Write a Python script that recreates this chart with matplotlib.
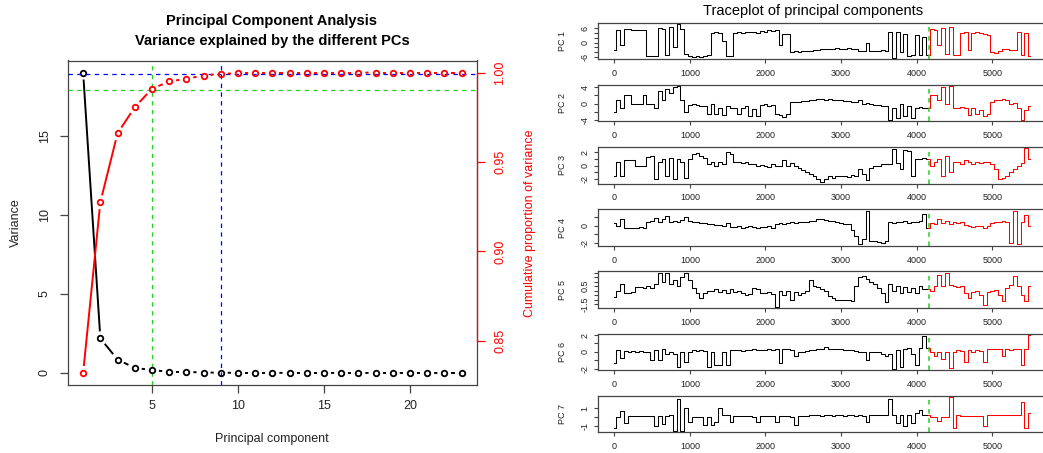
import numpy as np
import matplotlib
matplotlib.use("Agg")
import matplotlib.pyplot as plt

plt.rcParams['font.family'] = ['Liberation Sans', 'DejaVu Sans']

# ---- scree plot data ----
pc_number = list(range(1, 24))
pc_variance = [19.0, 2.19, 0.85, 0.32, 0.19, 0.07, 0.07, 0.03, 0.02, 0.01,
               0.01, 0.01, 0.005, 0.005, 0.005, 0.004, 0.004, 0.003, 0.003,
               0.002, 0.002, 0.001, 0.001]
cum_proportion = [0.832, 0.9275, 0.966, 0.9806, 0.9909, 0.995, 0.9965, 0.9983,
                  0.9993, 0.9996, 0.9999, 0.9999, 0.9999, 0.9999, 0.9999,
                  0.9999, 0.9999, 1.0, 1.0, 1.0, 1.0, 1.0, 1.0]
thresh_green = 0.99
thresh_blue = 0.999
pc_green = 5
pc_blue = 9

# ---- trace data: iteration every 50 steps, 0..5500 ----
iteration = list(range(0, 5550, 50))
split_iter = 4170

pc1 = [-3.0, 5.4, -1.0, 5.8, 5.8, 5.0, 5.0, 5.0, 5.0, -5.5,
       -5.5, -5.3, 6.0, 5.5, -5.0, 6.5, -2.0, 7.6, 5.5, -4.8,
       -5.5, -6.0, -5.5, -5.8, -5.5, -5.2, 4.0, 4.2, 4.0, 0.5,
       -5.5, -5.5, 4.0, 4.3, 4.0, 4.3, 4.5, 4.3, 4.0, 4.8,
       4.5, 5.0, 4.8, 5.0, -1.0, 3.5, 3.5, -4.0, -3.5, -3.8,
       -3.5, -3.4, -3.3, -3.0, -3.0, -2.8, -2.6, -2.5, -2.5, -2.4,
       -2.5, -2.5, -2.4, -2.6, -2.5, -3.5, -3.6, 0.0, -3.4, -3.6,
       -3.3, -3.2, -3.5, 4.3, -6.3, 4.5, -4.0, 3.5, -5.5, -5.0,
       3.0, -5.0, 2.5, -5.2, 5.5, 5.0, -1.0, 6.0, -4.5, 6.5,
       -5.0, -5.0, 4.0, 4.2, -3.0, 4.0, 4.5, 3.8, 3.5, 3.0,
       -4.0, -4.3, -3.5, -2.5, -2.5, -3.0, -3.2, 4.2, -5.0, 4.0,
       -5.5]
pc2 = [-2.0, 1.0, -1.0, 2.0, 2.0, 0.0, 0.0, 0.0, 2.0, 0.0,
       -0.2, -1.0, 3.0, 1.0, 3.5, 2.5, 4.0, 4.2, 1.0, -2.0,
       -0.3, 0.0, -0.3, -0.5, -0.5, -2.5, 0.0, -2.5, -1.0, -2.8,
       -0.5, -1.0, -1.0, -2.5, -1.0, -0.5, -3.0, -1.2, -3.0, -0.3,
       0.0, -0.5, -0.3, -2.5, -2.8, -3.2, -2.5, 0.5, 0.3, 0.5,
       0.6, 0.7, 0.8, 1.0, 1.2, 1.2, 1.0, 1.1, 1.0, 0.9,
       0.8, 0.7, 0.6, 0.5, 0.5, 1.0, 0.0, 0.2, -0.2, -0.3,
       -0.3, -0.5, -0.5, -4.0, -1.0, -3.5, 0.0, -3.0, -0.5, -3.5,
       -1.0, -0.8, -1.0, -1.0, 2.0, 2.0, 1.0, 4.0, 0.0, 4.2,
       -1.0, -1.0, -0.8, -1.0, -2.8, -1.0, -2.5, -1.5, -3.0, -2.5,
       0.5, 0.8, 1.0, 1.2, 0.8, 0.0, 0.2, -1.0, -4.0, -1.5,
       -0.5]
pc3 = [-1.5, 0.5, -1.5, 0.8, 0.8, 0.8, 0.0, 0.0, 0.0, 1.3,
       1.5, -2.0, 0.5, 1.0, -1.5, 1.2, -2.0, 1.0, 0.5, -1.8,
       1.0, 1.8, 1.9, 1.5, 1.2, 0.3, 0.5, 0.0, 0.5, 0.2,
       2.0, 1.8, 0.5, 0.5, 0.4, 0.6, 0.3, 0.2, 0.0, 0.1,
       0.0, -0.2, 0.3, 0.0, -0.1, 0.8, 0.0, 0.4, 0.0, -0.3,
       -0.6, -1.0, -1.3, -1.6, -2.0, -2.5, -2.0, -1.6, -1.8, -1.6,
       -1.6, -1.5, -1.7, -1.4, -1.5, -0.5, -1.2, -2.2, -0.3, 0.0,
       0.0, 0.2, 0.3, 0.2, 2.5, 0.4, -0.5, 2.4, 2.2, -1.5,
       1.0, 1.0, 1.1, 1.0, 0.0, 0.5, 1.0, -1.5, 1.5, -1.0,
       0.5, 0.6, 0.3, 0.8, 0.5, 0.2, 0.6, 0.4, 0.5, 0.5,
       0.2, -0.5, -2.0, -1.8, -1.5, -1.0, -0.5, 0.0, 0.4, 2.6,
       1.0]
pc4 = [0.3, 0.0, 0.8, -0.2, -0.2, -0.2, -0.2, -0.1, -0.2, 0.5,
       0.6, 0.9, 0.4, 0.8, 1.2, 0.5, 0.6, 0.4, 0.7, 1.0,
       0.6, 0.5, 0.4, 0.3, 0.3, 0.2, 0.2, 0.1, 0.1, 0.0,
       0.3, -0.1, -0.1, 0.0, -0.2, -0.1, 0.0, -0.1, -0.2, -0.1,
       -0.1, 0.0, -0.2, 0.2, 0.3, 0.2, 0.3, 0.4, 0.3, 0.4,
       0.5, 0.4, 0.6, 0.6, 0.8, 0.8, 0.7, 0.6, 0.6, 0.4,
       0.3, 0.2, 0.2, -0.5, -1.2, -2.2, -1.5, 1.8, -1.8, -1.8,
       -1.9, -2.0, -1.8, 0.5, 0.3, 0.5, 0.4, 0.6, 0.3, 0.5,
       0.4, 0.6, 1.4, -0.3, 0.3, 0.2, 0.8, 0.3, 0.6, 0.2,
       0.5, 0.3, 0.4, 0.1, 0.0, -0.1, 0.0, 0.0, -0.2, 0.0,
       0.3, 0.4, 0.5, 0.6, 0.5, -2.0, 1.8, -2.1, 0.5, 1.3,
       0.0]
pc5 = [-0.7, 0.0, 0.8, -0.3, -0.3, -0.2, 0.4, 0.4, 0.3, 0.5,
       0.3, 0.8, 2.0, 1.0, 2.0, 0.8, 1.2, 0.5, 1.5, 2.0,
       1.2, 0.3, -0.3, -0.8, -0.3, 0.0, 0.0, 0.2, -0.1, 0.1,
       -0.3, 0.2, -0.2, 0.0, -0.3, -0.5, -0.4, 0.3, 0.2, -0.3,
       -0.3, -0.2, -0.4, -1.8, 0.0, -0.5, 0.0, -1.0, -0.2, -0.5,
       -0.3, 0.0, 1.2, 0.5, 0.4, 0.2, 0.0, -0.6, -0.8, -1.0,
       -1.0, -1.0, -1.1, -1.2, 0.5, 1.5, 1.6, 1.3, 1.0, 0.7,
       0.3, -0.3, -1.3, 0.8, 0.0, 0.5, -0.3, 0.4, -0.2, 0.3,
       -0.3, 0.5, 0.2, 0.2, 0.0, 0.5, 1.8, 0.5, 2.0, 0.6,
       0.5, 0.4, 0.5, -0.3, -0.8, -0.2, 0.0, -0.5, -1.6, -0.1,
       0.0, 0.1, -0.5, -1.2, 0.3, 0.6, 1.6, 0.5, -0.5, -1.2,
       0.5]
pc6 = [-1.3, 0.2, -0.7, 0.1, 0.0, 0.1, 0.0, 0.1, 0.0, 0.0,
       -0.9, 0.2, -1.0, 0.3, -0.2, 0.0, -0.3, -1.8, 0.0, -1.2,
       0.0, 0.2, 0.1, 0.2, 0.1, -1.8, 0.0, -1.5, -1.5, 0.0,
       -1.6, 0.2, 0.2, 0.2, 0.1, 0.2, 0.2, 0.3, 0.2, 0.2,
       0.2, 0.3, 0.2, 0.3, -1.3, 0.3, 0.3, 0.2, -0.5, 0.0,
       0.0, 0.1, 0.2, 0.2, 0.4, 0.4, 0.6, 0.4, 0.4, 0.3,
       0.3, 0.2, 0.2, 0.2, 0.1, 0.0, 0.0, -1.0, 0.0, 0.0,
       0.0, -0.3, -0.5, -0.3, -2.0, 0.2, -1.8, 0.3, 0.5, -0.2,
       -1.6, 0.5, 1.9, 0.5, 0.0, -0.5, 0.0, -0.8, 0.0, -1.9,
       0.0, 0.2, 0.1, -1.2, 0.2, 0.0, 0.2, 0.1, -1.2, 0.3,
       0.3, 0.4, 0.3, -0.5, 0.3, 0.2, 0.3, 0.4, -1.5, 0.3,
       2.0]
pc7 = [-1.2, 0.0, 0.7, -0.6, 0.1, 0.1, 0.1, 0.1, 0.1, 0.1,
       0.1, -1.0, 0.1, -0.7, 0.1, 0.3, -1.5, 2.0, -1.5, 1.0,
       -0.5, 0.0, 0.0, 0.0, -0.8, 0.0, -0.8, -0.5, 1.0, 0.2,
       0.2, -0.5, 0.1, 0.1, 0.1, 0.1, 0.1, 0.0, -0.5, 0.1,
       0.1, 0.1, 0.1, -0.5, 0.1, 0.1, 0.1, 0.0, -0.8, 0.1,
       0.1, 0.1, 0.2, 0.2, 0.2, 0.1, 0.2, 0.2, 0.1, 0.2,
       0.2, 0.1, 0.2, 0.2, 0.1, 0.2, 0.1, -0.5, 0.2, 0.2,
       0.2, 0.2, 0.2, 2.0, 0.2, -0.6, 0.2, -1.0, 0.2, -0.6,
       0.5, 0.8, 0.3, 0.3, 0.0, 0.0, -0.4, 0.0, 0.0, 2.2,
       -1.2, 0.3, 0.1, 0.1, 0.1, 0.1, 0.1, 0.1, -1.0, 0.2,
       0.2, 0.2, 0.2, 0.2, 0.2, 0.2, 0.2, 0.2, 1.7, -1.2,
       0.5]

traces = [pc1, pc2, pc3, pc4, pc5, pc6, pc7]
trace_names = ["PC 1", "PC 2", "PC 3", "PC 4", "PC 5", "PC 6", "PC 7"]
# y ticks per panel, and the ones that carry a label
trace_yticks = [
    ([-6, -4, -2, 0, 2, 4, 6], [-6, 0, 6]),
    ([-4, -2, 0, 2, 4], [-4, 0, 4]),
    ([-2, -1, 0, 1, 2], [-2, 0, 2]),
    ([-2, -1, 0, 1], [-2, 0]),
    ([-1.5, -1.0, -0.5, 0.0, 0.5, 1.0, 1.5, 2.0], [-1.5, 0.5]),
    ([-2, -1, 0, 1, 2], [-2, 0, 2]),
    ([-1, 0, 1], [-1, 1]),
]

W, H = 1043, 453
GREEN = '#22d022'
BLUE = '#0000ff'
RED = '#ff0000'
AXC = '#444444'


def px_axes(fig, left, top, right, bottom):
    return fig.add_axes([left / W, 1 - bottom / H, (right - left) / W, (bottom - top) / H])


def r_limits(vals):
    lo, hi = min(vals), max(vals)
    pad = 0.04 * (hi - lo)
    return lo - pad, hi + pad


def gapped_line(ax, x, y, color, gap=7.0, lw=1.4):
    # line segments that stop short of each point marker
    pts = ax.transData.transform(np.column_stack([x, y]))
    inv = ax.transData.inverted()
    for p0, p1 in zip(pts[:-1], pts[1:]):
        d = p1 - p0
        L = np.hypot(d[0], d[1])
        if L <= 2 * gap:
            continue
        u = d / L
        a = inv.transform(p0 + u * gap)
        b = inv.transform(p1 - u * gap)
        ax.plot([a[0], b[0]], [a[1], b[1]], color=color, lw=lw,
                solid_capstyle='butt', zorder=3)


fig = plt.figure(figsize=(W / 100, H / 100), dpi=100)

# ---------------- left: scree plot ----------------
ax = px_axes(fig, 68, 60.5, 476.7, 385)
ax.set_xlim(r_limits(pc_number))
ax.set_ylim(r_limits(pc_variance))
ax2 = ax.twinx()
ax2.set_position(ax.get_position())
ax2.set_ylim(r_limits(cum_proportion))

for s in ax.spines.values():
    s.set_color(AXC)
    s.set_linewidth(0.9)
for name, s in ax2.spines.items():
    s.set_visible(name == 'right')
ax2.spines['right'].set_color(RED)
ax2.spines['right'].set_linewidth(0.9)
ax2.spines['right'].set_bounds(0.85, 1.0)

ax.set_xticks([5, 10, 15, 20])
ax.set_yticks([0, 5, 10, 15])
ax.tick_params(axis='both', direction='out', length=5.5, width=0.9, color=AXC,
               labelsize=9, labelcolor='#222222')
ax.tick_params(axis='x', pad=5)
ax.tick_params(axis='y', pad=7)
for lab in ax.get_yticklabels():
    lab.set_rotation(90)
    lab.set_va('center')
ax2.set_yticks([0.85, 0.90, 0.95, 1.00])
ax2.set_yticklabels(['0.85', '0.90', '0.95', '1.00'], rotation=90, va='center')
ax2.tick_params(axis='y', direction='out', length=5.5, width=0.9, color=RED,
                labelsize=9, labelcolor=RED, pad=7)

ax.axvline(pc_green, color=GREEN, lw=0.9, ls=(0, (3.5, 3.5)), zorder=1)
ax.axvline(pc_blue, color=BLUE, lw=0.9, ls=(0, (3.5, 3.5)), zorder=1)
ax2.axhline(thresh_green, color=GREEN, lw=0.9, ls=(0, (3.5, 3.5)), zorder=1)
ax2.axhline(thresh_blue, color=BLUE, lw=0.9, ls=(0, (3.5, 3.5)), zorder=1)

gapped_line(ax, pc_number, pc_variance, 'black')
ax.plot(pc_number, pc_variance, 'o', mfc='none', mec='black', ms=4.0, mew=1.3, zorder=4)
gapped_line(ax2, pc_number, cum_proportion, RED)
ax2.plot(pc_number, cum_proportion, 'o', mfc='none', mec=RED, ms=4.0, mew=1.3, zorder=4)

fig.text(272 / W, 1 - 21.5 / H, "Principal Component Analysis", ha='center', va='center',
         fontsize=10.5, fontweight='bold')
fig.text(272 / W, 1 - 40.5 / H, "Variance explained by the different PCs", ha='center',
         va='center', fontsize=10.5, fontweight='bold')
fig.text(16 / W, 1 - 223 / H, "Variance", rotation=90, ha='center', va='center',
         fontsize=9, color='#222222')
fig.text(272 / W, 1 - 439 / H, "Principal component", ha='center', va='center',
         fontsize=9, color='#222222')
fig.text(530 / W, 1 - 223 / H, "Cumulative proportion of variance", rotation=90,
         ha='center', va='center', fontsize=9, color=RED)

# ---------------- right: trace plots ----------------
it = np.array(iteration)
k = int(np.searchsorted(it, split_iter))  # first iteration after the split
for i, (vals, name, (ticks, shown)) in enumerate(zip(traces, trace_names, trace_yticks)):
    bottom = 59.3 + 62.17 * i
    a = px_axes(fig, 597.7, bottom - 36.5, 1048.9, bottom)
    v = np.array(vals)
    a.plot(it[:k], v[:k], color='black', lw=0.75, drawstyle='steps-mid')
    a.plot(it[k - 1:], v[k - 1:], color=RED, lw=0.75, drawstyle='steps-mid')
    a.axvline(split_iter, color=GREEN, lw=1.1, ls=(0, (3, 3)))
    a.set_xlim(-220, 5750)
    a.set_ylim(r_limits(vals))
    a.set_xticks(range(0, 6000, 1000))
    a.set_yticks(ticks)
    a.set_yticklabels([(f"{t:g}" if t in shown else "") for t in ticks],
                      rotation=90, va='center')
    a.tick_params(axis='both', direction='out', length=3, width=0.8, color=AXC,
                  labelsize=6.5, labelcolor='#222222')
    a.tick_params(axis='x', pad=4)
    a.tick_params(axis='y', pad=3)
    for s in a.spines.values():
        s.set_color(AXC)
        s.set_linewidth(0.9)
    a.set_ylabel(name, fontsize=6.5, color='#222222')
    a.yaxis.set_label_coords((567 - 597.7) / 451.2, 0.5)

fig.text(813 / W, 1 - 11.5 / H, "Traceplot of principal components", ha='center',
         va='center', fontsize=10.5)

fig.savefig("out.png", dpi=100)
